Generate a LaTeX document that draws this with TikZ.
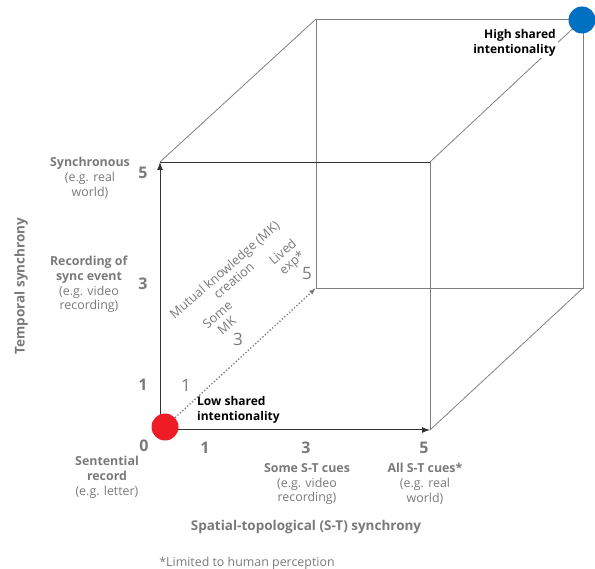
\documentclass[tikz,border=0pt]{standalone}
\usepackage{fontspec}
\setmainfont{Open Sans}
\usetikzlibrary{arrows.meta}
\definecolor{txtgray}{HTML}{7A7A7A}
\definecolor{linegray}{HTML}{808080}
\definecolor{linedark}{HTML}{333333}
\definecolor{dotred}{HTML}{EE1C25}
\definecolor{dotblue}{HTML}{0070C0}
\begin{document}
\begin{tikzpicture}[x=1pt,y=-1pt,
  lbl/.style={font=\fontsize{12.4}{14.8}\selectfont, text=txtgray, align=center, inner sep=0pt},
  keylbl/.style={font=\fontsize{12}{15}\selectfont\bfseries, text=black, inner sep=1pt},
  num/.style={font=\fontsize{16}{18}\selectfont\bfseries, text=txtgray, inner sep=0pt},
  dnum/.style={font=\fontsize{17}{18}\selectfont, text=txtgray, inner sep=0pt},
  axlbl/.style={font=\fontsize{13.5}{15}\selectfont\bfseries, text=txtgray, inner sep=0pt},
  difflbl/.style={font=\fontsize{12.8}{14}\selectfont, text=txtgray, align=center, inner sep=0pt, rotate=41},
  edge/.style={draw=linegray, line width=0.8pt},
  axis/.style={draw=linedark, line width=1pt, -{Latex[length=8pt,width=6pt]}},
  dotbig/.style={circle, minimum size=27pt, inner sep=0pt}
]
\useasboundingbox (0,0) rectangle (595,569);
% cube corners
\coordinate (FBL) at (160,430);
\coordinate (FBR) at (430,430);
\coordinate (FTL) at (160,162);
\coordinate (FTR) at (430,162);
\coordinate (BBL) at (316,288);
\coordinate (BBR) at (583,288);
\coordinate (BTL) at (316,19);
\coordinate (BTR) at (583,19);
% edges
\draw[edge] (BTL) -- (BTR) -- (BBR) -- (BBL) -- (BTL);
\draw[edge] (FTL) -- (BTL);
\draw[edge] (FTR) -- (BTR);
\draw[edge] (FBR) -- (BBR);
\draw[edge] (FTR) -- (FBR);
\draw[draw=linedark, line width=0.8pt] (FTL) -- (FTR);
\draw[axis] (FBL) -- (FBR);
\draw[axis] (FBL) -- (FTL);
% dots
\node[dotbig, fill=dotred] (low) at (165,427) {};
\node[dotbig, fill=dotblue] (high) at (582,20) {};
\draw[txtgray, line width=1.3pt, dotted, -{Latex[length=7pt,width=5pt]}] (low) -- (BBL);
% key labels
\node[keylbl, align=left, anchor=west] (lowtxt) at (196,410) {Low shared\\intentionality};
\node[keylbl, align=right, anchor=east, fill=white, inner sep=2pt] (hightxt) at (558,43) {High shared\\intentionality};
% y axis
\node[num] (y5) at (143,173) {5};
\node[num] (y3) at (143,284) {3};
\node[num] (y1) at (143,385) {1};
\node[num] (y0) at (144,446) {0};
\node[lbl] (ysync) at (90,178) {\textbf{Synchronous}\\(e.g. real\\world)};
\node[lbl] (yrec) at (89,284.5) {\textbf{Recording of}\\\textbf{sync event}\\(e.g. video\\recording)};
\node[axlbl, rotate=90] (ytitle) at (21,286) {Temporal synchrony};
% x axis
\node[num] (x1) at (205,448) {1};
\node[num] (x3) at (306,448) {3};
\node[num] (x5) at (424,448) {5};
\node[lbl] (xsent) at (107,477) {\textbf{Sentential}\\\textbf{record}\\(e.g. letter)};
\node[lbl] (xsome) at (307,484) {\textbf{Some S-T cues}\\(e.g. video\\recording)};
\node[lbl] (xall) at (425,484) {\textbf{All S-T cues*}\\(e.g. real\\world)};
\node[axlbl] (xtitle) at (306,527) {Spatial-topological (S-T) synchrony};
\node[lbl] (note) at (247,563) {*Limited to human perception};
% diagonal
\node[dnum] (d1) at (186,385) {1};
\node[dnum] (d3) at (238,339) {3};
\node[dnum] (d5) at (307,274) {5};
\node[difflbl] (mk) at (229,275) {Mutual knowledge (MK)\\creation};
\node[difflbl] (somemk) at (222,320) {Some\\MK};
\node[difflbl] (lived) at (288,258) {Lived\\exp*};
\end{tikzpicture}
\end{document}
